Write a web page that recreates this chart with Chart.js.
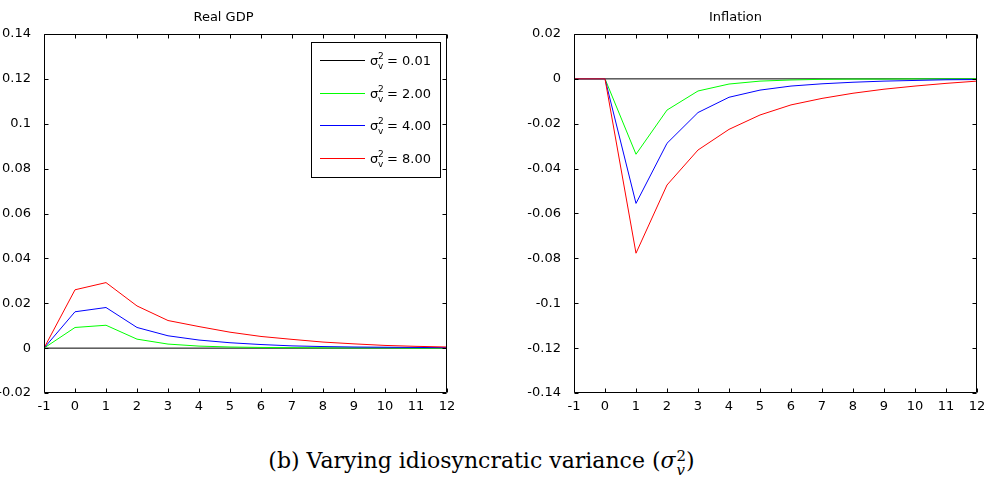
<!DOCTYPE html>
<html>
<head>
<meta charset="utf-8">
<script src="https://cdn.jsdelivr.net/npm/chart.js@4.4.0/dist/chart.umd.min.js"></script>
<style>
  body { margin: 0; background: #fff; }
  #wrap { position: relative; width: 988px; height: 484px; overflow: hidden; }
  #gdp { position: absolute; left: 0; top: 0; }
  #infl { position: absolute; left: 494px; top: 0; }
  #caption {
    position: absolute; left: 0; top: 448px; width: 963px; text-align: center;
    font-family: "DejaVu Serif", serif; font-size: 22px; color: #000;
  }
  .supsub { display: inline-block; vertical-align: -0.45em; line-height: 0.95; font-size: 0.68em; text-align: left; margin-left: 1px; }
  .supsub span { display: block; }
</style>
</head>
<body>
<div id="wrap">
  <canvas id="gdp" width="494" height="430"></canvas>
  <canvas id="infl" width="494" height="430"></canvas>
  <div id="caption">(b) Varying idiosyncratic variance (<i>σ</i><span class="supsub"><span>2</span><span><i>v</i></span></span>)</div>
</div>
<script>
// periods after the shock
const periods = [-1, 0, 1, 2, 3, 4, 5, 6, 7, 8, 9, 10, 11, 12];
const variances = ['0.01', '2.00', '4.00', '8.00'];
const lineColors = ['#000000', '#00ff00', '#0000ff', '#ff0000'];

// Real GDP responses
const gdp001 = [0, 0, 0, 0, 0, 0, 0, 0, 0, 0, 0, 0, 0, 0];
const gdp200 = [0, 0.0092, 0.0102, 0.0040, 0.0018, 0.0009, 0.0005, 0.0003, 0.0002, 0.0001, 0.0001, 0.0001, 0.0000, 0.0000];
const gdp400 = [0, 0.0162, 0.0181, 0.0092, 0.0055, 0.0036, 0.0024, 0.0016, 0.0010, 0.0007, 0.0005, 0.0004, 0.0003, 0.0002];
const gdp800 = [0, 0.0260, 0.0292, 0.0188, 0.0123, 0.0096, 0.0071, 0.0052, 0.0039, 0.0027, 0.0019, 0.0012, 0.0008, 0.0005];

// Inflation responses
const infl001 = [0, 0, 0, 0, 0, 0, 0, 0, 0, 0, 0, 0, 0, 0];
const infl200 = [0, 0, -0.0336, -0.0139, -0.0054, -0.0023, -0.0010, -0.0005, -0.0002, -0.0001, -0.0001, 0, 0, 0];
const infl400 = [0, 0, -0.0555, -0.0287, -0.0150, -0.0082, -0.0050, -0.0032, -0.0022, -0.0015, -0.0010, -0.0007, -0.0004, -0.0003];
const infl800 = [0, 0, -0.0777, -0.0473, -0.0317, -0.0225, -0.0161, -0.0116, -0.0087, -0.0064, -0.0046, -0.0032, -0.0020, -0.0010];

// tick values
const periodTicks = [-1, 0, 1, 2, 3, 4, 5, 6, 7, 8, 9, 10, 11, 12];
const gdpTicks = [-0.02, 0, 0.02, 0.04, 0.06, 0.08, 0.1, 0.12, 0.14];
const inflTicks = [-0.14, -0.12, -0.1, -0.08, -0.06, -0.04, -0.02, 0, 0.02];

const tickFont = { family: "'DejaVu Sans', sans-serif", size: 13 };

// MATLAB style box with inward ticks
const matlabAxes = {
    id: 'matlabAxes',
    afterDraw(chart) {
        const { ctx, chartArea: a, scales: { x, y } } = chart;
        const L = Math.round(a.left) + 0.5, R = Math.round(a.right) - 0.5;
        const T = Math.round(a.top) + 0.5, B = Math.round(a.bottom) - 0.5;
        ctx.save();
        ctx.strokeStyle = '#000';
        ctx.lineWidth = 1;
        ctx.beginPath();
        ctx.rect(L, T, R - L, B - T);
        x.ticks.forEach(t => {
            const px = Math.round(x.getPixelForValue(t.value)) + 0.5;
            ctx.moveTo(px, B); ctx.lineTo(px, B - 4);
            ctx.moveTo(px, T); ctx.lineTo(px, T + 4);
        });
        y.ticks.forEach(t => {
            const py = Math.round(y.getPixelForValue(t.value)) + 0.5;
            ctx.moveTo(L, py); ctx.lineTo(L + 4, py);
            ctx.moveTo(R, py); ctx.lineTo(R - 4, py);
        });
        ctx.stroke();
        ctx.restore();
    }
};

// legend with sigma_v^2 labels
const sigmaLegend = {
    id: 'sigmaLegend',
    afterDraw(chart) {
        const { ctx, chartArea: a } = chart;
        const right = Math.round(a.right) - 6, left = right - 130;
        const top = Math.round(a.top) + 8, bottom = top + 136;
        ctx.save();
        ctx.fillStyle = '#fff';
        ctx.fillRect(left, top, right - left, bottom - top);
        ctx.strokeStyle = '#000';
        ctx.lineWidth = 1;
        ctx.strokeRect(left + 0.5, top + 0.5, right - left - 1, bottom - top - 1);
        variances.forEach((v, i) => {
            const cy = top + 18 + Math.round(i * 32.6);
            ctx.strokeStyle = lineColors[i];
            ctx.beginPath();
            ctx.moveTo(left + 9, cy + 0.5);
            ctx.lineTo(left + 54, cy + 0.5);
            ctx.stroke();
            ctx.fillStyle = '#000';
            ctx.textBaseline = 'alphabetic';
            ctx.font = "13px 'DejaVu Sans'";
            ctx.fillText('σ', left + 59, cy + 5);
            ctx.font = "9px 'DejaVu Sans'";
            ctx.fillText('2', left + 67, cy - 1);
            ctx.fillText('v', left + 67, cy + 9);
            ctx.font = "13px 'DejaVu Sans'";
            ctx.fillText('= ' + v, left + 76, cy + 5);
        });
        ctx.restore();
    }
};

function makeSeries(values, i) {
    return {
        label: variances[i],
        data: values.map((v, k) => ({ x: periods[k], y: v })),
        borderColor: lineColors[i],
        borderWidth: 1,
        pointRadius: 0,
        tension: 0,
        fill: false,
        order: 4 - i
    };
}

function makeOptions(title, yMin, yMax, yTicks, yWidth, rightPad) {
    return {
        responsive: false,
        animation: false,
        layout: { padding: { left: 0, right: rightPad, top: 0, bottom: 0 } },
        plugins: {
            legend: { display: false },
            tooltip: { enabled: false },
            title: {
                display: true,
                text: title,
                color: '#000',
                font: { family: "'DejaVu Sans', sans-serif", size: 13, weight: 'normal', lineHeight: 1 },
                padding: { top: 11, bottom: 10 }
            }
        },
        scales: {
            x: {
                type: 'linear',
                min: -1,
                max: 12,
                afterBuildTicks: s => { s.ticks = periodTicks.map(v => ({ value: v })); },
                afterFit: s => { s.height = 37; },
                grid: { display: false },
                border: { display: false },
                ticks: { color: '#000', font: tickFont, padding: -2, maxRotation: 0, autoSkip: false, callback: v => String(v) }
            },
            y: {
                min: yMin,
                max: yMax,
                afterBuildTicks: s => { s.ticks = yTicks.map(v => ({ value: v })); },
                afterFit: s => { s.width = yWidth; },
                grid: { display: false },
                border: { display: false },
                ticks: { color: '#000', font: tickFont, padding: 5, autoSkip: false, callback: v => String(v) }
            }
        }
    };
}

new Chart(document.getElementById('gdp'), {
    type: 'line',
    data: { datasets: [gdp001, gdp200, gdp400, gdp800].map(makeSeries) },
    options: makeOptions('Real GDP', -0.02, 0.14, gdpTicks, 44, 47),
    plugins: [matlabAxes, sigmaLegend]
});

new Chart(document.getElementById('infl'), {
    type: 'line',
    data: { datasets: [infl001, infl200, infl400, infl800].map(makeSeries) },
    options: makeOptions('Inflation', -0.14, 0.02, inflTicks, 80, 11),
    plugins: [matlabAxes]
});
</script>
</body>
</html>
